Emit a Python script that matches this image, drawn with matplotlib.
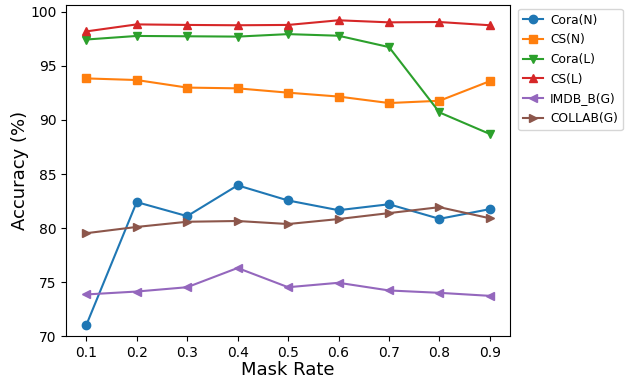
import matplotlib
matplotlib.use("Agg")
import matplotlib.pyplot as plt

mask_rate = [0.1, 0.2, 0.3, 0.4, 0.5, 0.6, 0.7, 0.8, 0.9]
cora_n = [71.0, 82.4, 81.1, 83.95, 82.55, 81.65, 82.2, 80.85, 81.75]
cs_n = [93.85, 93.7, 93.0, 92.93, 92.53, 92.17, 91.57, 91.78, 93.6]
cora_l = [97.45, 97.78, 97.75, 97.72, 97.95, 97.8, 96.75, 90.7, 88.7]
cs_l = [98.2, 98.85, 98.8, 98.77, 98.8, 99.23, 99.04, 99.07, 98.77]
imdb_b = [73.85, 74.12, 74.52, 76.3, 74.52, 74.93, 74.22, 74.0, 73.72]
collab = [79.52, 80.1, 80.58, 80.65, 80.37, 80.83, 81.38, 81.93, 80.9]

series = [
    ("Cora(N)", cora_n, "o", "#1f77b4"),
    ("CS(N)", cs_n, "s", "#ff7f0e"),
    ("Cora(L)", cora_l, "v", "#2ca02c"),
    ("CS(L)", cs_l, "^", "#d62728"),
    ("IMDB_B(G)", imdb_b, "<", "#9467bd"),
    ("COLLAB(G)", collab, ">", "#8c564b"),
]

fig = plt.figure(figsize=(6.29, 3.81), dpi=100)
ax = fig.add_axes([0.105, 0.118, 0.706, 0.869])
for name, vals, m, c in series:
    ax.plot(mask_rate, vals, marker=m, color=c, label=name, markersize=6, linewidth=1.5)

ax.set_xticks(mask_rate)
ax.set_xticklabels([str(v) for v in mask_rate])
ax.set_ylim(70, 100.65)
ax.set_yticks([70, 75, 80, 85, 90, 95, 100])
ax.set_xlabel("Mask Rate", fontsize=13, labelpad=1)
ax.set_ylabel("Accuracy (%)", fontsize=13, labelpad=1)
ax.tick_params(labelsize=10)
ax.legend(loc="upper left", bbox_to_anchor=(1.01, 1.0), fontsize=8.8,
          borderaxespad=0.3, handlelength=1.6, handletextpad=0.6,
          borderpad=0.4, labelspacing=0.55)
fig.savefig("out.png", dpi=100)
